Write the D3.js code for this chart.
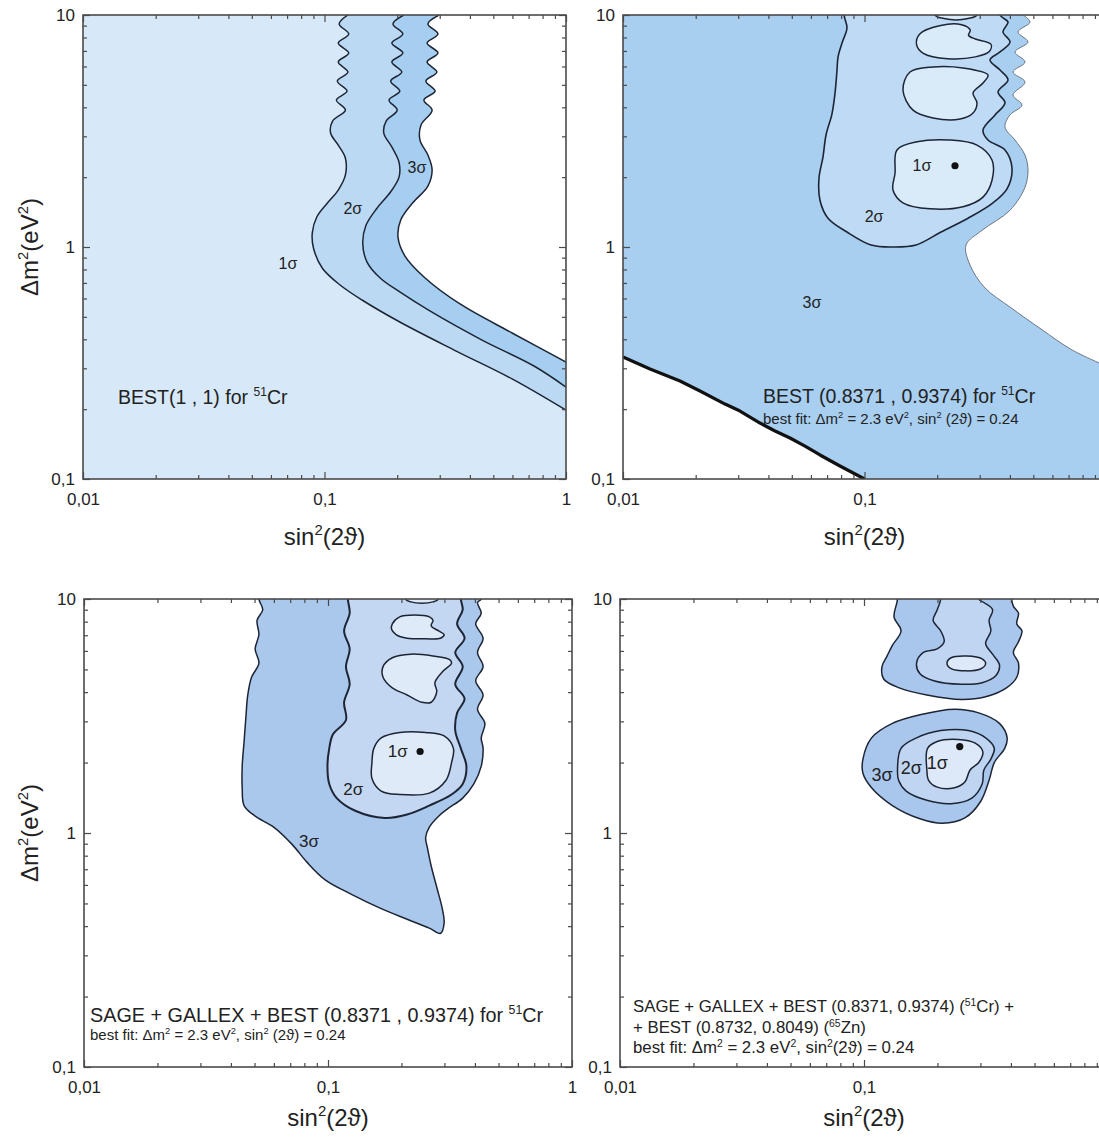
<!DOCTYPE html>
<html>
<head>
<meta charset="utf-8">
<script src="https://cdn.jsdelivr.net/npm/d3@7"></script>
<style>
  body { margin: 0; background: #fff; }
  svg { display: block; }
  text { font-family: Arial, "Liberation Sans", sans-serif; fill: #222; }
</style>
</head>
<body>
<svg></svg>
<script>
// tick labels
var xTickVals = [0.01, 0.1, 1];
var xTickText = ['0,01', '0,1', '1'];
var yTickVals = [0.1, 1, 10];
var yTickText = ['0,1', '1', '10'];

// ---- panel 1 : BEST(1,1), three open edges [sin2(2theta), dm2]
var p1Edge1 = [[0.125,10],[0.115,9.15],[0.126,8.28],[0.114,7.57],[0.126,6.86],[0.114,6.27],[0.125,5.68],[0.113,5.19],[0.124,4.70],[0.112,4.30],[0.122,3.89],[0.108,3.49],[0.106,3.10],[0.114,2.75],[0.122,2.42],[0.122,2.04],[0.114,1.76],[0.103,1.55],[0.093,1.35],[0.089,1.15],[0.090,0.99],[0.098,0.81],[0.116,0.686],[0.143,0.591],[0.205,0.475],[0.351,0.356],[0.598,0.270],[1.0,0.198]];
var p1Edge2 = [[0.213,10],[0.192,9.15],[0.211,8.28],[0.190,7.57],[0.211,6.86],[0.190,6.27],[0.209,5.68],[0.188,5.19],[0.205,4.70],[0.185,4.30],[0.200,3.89],[0.180,3.49],[0.176,3.10],[0.190,2.70],[0.2035,2.32],[0.2035,2.0],[0.188,1.73],[0.165,1.47],[0.1485,1.24],[0.144,1.04],[0.150,0.861],[0.170,0.735],[0.205,0.640],[0.273,0.530],[0.449,0.397],[0.737,0.307],[1.0,0.249]];
var p1Edge3 = [[0.298,10],[0.268,9.15],[0.295,8.28],[0.266,7.57],[0.295,6.86],[0.266,6.27],[0.292,5.68],[0.263,5.19],[0.287,4.70],[0.258,4.30],[0.279,3.89],[0.251,3.36],[0.2485,2.89],[0.268,2.49],[0.279,2.15],[0.268,1.83],[0.232,1.55],[0.207,1.31],[0.2016,1.10],[0.2154,0.914],[0.261,0.735],[0.364,0.568],[0.598,0.426],[1.0,0.319]];
var p1Labels = [['1σ',0.0706,0.853],['2σ',0.131,1.47],['3σ',0.2415,2.21]];

// ---- panel 2 : BEST (0.8371, 0.9374)
var p2Cut = [[0.01,0.3357],[0.01294,0.2979],[0.01722,0.2645],[0.02084,0.2395],[0.02645,0.2104],[0.03051,0.1963],[0.03693,0.1743],[0.04261,0.161],[0.04915,0.1502],[0.0567,0.1387],[0.06542,0.1269],[0.07915,0.1138],[0.1,0.1]];
var p2Edge3 = [[0.4532,10],[0.4845,9.33],[0.4321,8.45],[0.4753,7.65],[0.4199,6.93],[0.462,6.27],[0.412,5.68],[0.462,5.14],[0.412,4.52],[0.4489,4.09],[0.4004,3.71],[0.3817,3.29],[0.4199,2.89],[0.462,2.49],[0.4753,2.15],[0.462,1.81],[0.4004,1.44],[0.3066,1.18],[0.2633,1.02],[0.2735,0.836],[0.3155,0.666],[0.4004,0.551],[0.5381,0.443],[0.7233,0.36],[1.0,0.307]];
var p2Sigma2 = [[0.0823,10],[0.0846,8.79],[0.0807,7.57],[0.0777,6.59],[0.0769,5.74],[0.0755,4.61],[0.0733,3.74],[0.0693,3.04],[0.0673,2.44],[0.0648,1.98],[0.0654,1.59],[0.0706,1.33],[0.0846,1.16],[0.1064,1.02],[0.130,1.0],[0.1634,1.02],[0.2074,1.16],[0.2683,1.33],[0.3405,1.55],[0.3891,1.78],[0.408,2.19],[0.3817,2.62],[0.3246,2.89],[0.3095,3.19],[0.3471,3.71],[0.3817,4.18],[0.3572,4.66],[0.3928,5.25],[0.3641,5.79],[0.3309,6.40],[0.3641,6.93],[0.4004,7.65],[0.3745,8.45],[0.3928,9.33],[0.3641,10]];
var p2Isle0 = [[0.1958,10],[0.2135,9.66],[0.2393,9.52],[0.2683,9.66],[0.2923,10]];
var p2Isle1 = [[0.1642,7.48],[0.1698,8.31],[0.2068,9.02],[0.2522,9.08],[0.274,8.62],[0.2696,8.17],[0.2879,7.88],[0.3341,7.48],[0.3287,6.96],[0.2879,6.60],[0.2211,6.48],[0.1753,6.84]];
var p2Isle2 = [[0.1443,4.75],[0.1543,5.68],[0.1921,5.97],[0.2557,5.91],[0.3246,5.51],[0.3095,5.09],[0.2814,4.61],[0.2923,4.18],[0.2814,3.78],[0.2486,3.56],[0.1921,3.60],[0.1588,3.89]];
var p2Isle3 = [[0.1363,2.62],[0.165,2.84],[0.2259,2.89],[0.2923,2.75],[0.3373,2.37],[0.3373,1.94],[0.3095,1.64],[0.2557,1.49],[0.1867,1.46],[0.1443,1.55],[0.1312,1.76],[0.1338,2.08]];
var p2BestFit = [0.237, 2.24];
var p2Labels = [['1σ',0.173,2.25],['2σ',0.1095,1.36],['3σ',0.0606,0.574]];

// ---- panel 3 : SAGE + GALLEX + BEST
var p3Sigma3 = [[0.0521,10],[0.0540,9.00],[0.0512,8.10],[0.0521,7.05],[0.0503,6.12],[0.0521,5.32],[0.0486,4.63],[0.0469,3.89],[0.0461,3.15],[0.0453,2.46],[0.0445,1.93],[0.0445,1.56],[0.0453,1.31],[0.0503,1.18],[0.0599,1.06],[0.0714,0.892],[0.0821,0.749],[0.0977,0.629],[0.1248,0.547],[0.1652,0.475],[0.2110,0.428],[0.2602,0.392],[0.2889,0.372],[0.2992,0.413],[0.2940,0.475],[0.2791,0.586],[0.2648,0.723],[0.2557,0.862],[0.2513,0.957],[0.2602,1.06],[0.2840,1.18],[0.3099,1.27],[0.3565,1.41],[0.3960,1.62],[0.4246,1.93],[0.4321,2.30],[0.4246,2.55],[0.4396,2.94],[0.410,3.38],[0.432,3.89],[0.403,4.47],[0.432,5.14],[0.410,5.91],[0.432,6.80],[0.403,7.83],[0.4246,8.70],[0.410,9.66],[0.4246,10]];
var p3Sigma2 = [[0.1206,10],[0.1227,8.70],[0.1164,7.30],[0.1227,6.12],[0.1185,5.14],[0.1227,4.32],[0.1164,3.62],[0.1185,3.04],[0.1048,2.64],[0.1012,2.30],[0.0995,1.93],[0.1012,1.62],[0.1086,1.41],[0.1293,1.245],[0.1710,1.16],[0.2110,1.20],[0.2602,1.31],[0.3209,1.46],[0.3565,1.62],[0.3692,1.93],[0.3502,2.30],[0.3323,2.74],[0.3382,3.26],[0.3628,3.75],[0.3323,4.32],[0.3565,5.14],[0.3323,5.91],[0.3628,6.80],[0.3382,7.83],[0.3565,9.00],[0.3502,10]];
var p3Isle0 = [[0.2073,10],[0.2185,9.72],[0.2427,9.59],[0.2694,9.72],[0.284,10]];
var p3Isle1 = [[0.1835,7.83],[0.1967,8.39],[0.2263,8.54],[0.2602,8.39],[0.2694,8.10],[0.2648,7.69],[0.284,7.30],[0.2992,7.05],[0.2889,6.80],[0.2513,6.76],[0.211,6.80],[0.19,7.05],[0.1822,7.42]];
var p3Isle2 = [[0.1681,5.14],[0.1835,5.61],[0.2185,5.81],[0.2694,5.71],[0.3154,5.51],[0.3209,5.32],[0.294,4.88],[0.2742,4.39],[0.2791,4.02],[0.2648,3.62],[0.2427,3.62],[0.211,3.89],[0.1835,4.17],[0.1681,4.63]];
var p3Isle3 = [[0.1541,2.30],[0.1652,2.55],[0.1967,2.69],[0.2513,2.69],[0.2992,2.60],[0.3266,2.30],[0.3209,2.00],[0.3045,1.68],[0.2602,1.48],[0.1967,1.46],[0.1652,1.51],[0.1514,1.71],[0.1514,2.00]];
var p3BestFit = [0.2385, 2.23];
var p3Labels = [['1σ',0.193,2.22],['2σ',0.127,1.54],['3σ',0.0836,0.924]];

// ---- panel 4 : SAGE + GALLEX + BEST (Cr + Zn)
var p4UpSigma3 = [[0.1372,10],[0.1328,8.39],[0.1418,7.30],[0.1307,6.34],[0.1244,5.71],[0.1185,5.14],[0.1204,4.55],[0.1395,4.17],[0.181,3.89],[0.2508,3.72],[0.3151,3.82],[0.3836,4.17],[0.4227,4.63],[0.4296,5.32],[0.4093,5.91],[0.4296,6.57],[0.444,7.30],[0.4227,7.83],[0.4296,8.70],[0.4093,9.32],[0.4027,10]];
var p4UpSigma2 = [[0.2063,10],[0.1996,9.00],[0.192,8.10],[0.2063,7.30],[0.2131,6.57],[0.1996,6.12],[0.1752,5.91],[0.1642,5.32],[0.1696,4.79],[0.1932,4.47],[0.2508,4.32],[0.305,4.39],[0.3475,4.71],[0.3591,5.23],[0.3365,5.81],[0.3151,6.45],[0.331,7.30],[0.3256,8.10],[0.3365,9.00],[0.31,9.66],[0.2953,10]];
var p4UpSigma1 = [[0.2188,5.32],[0.2275,5.61],[0.2634,5.71],[0.305,5.55],[0.3151,5.29],[0.3001,5.02],[0.2634,4.93],[0.2275,5.04]];
var p4LoSigma3 = [[0.099,2.07],[0.1074,2.55],[0.1307,2.94],[0.1696,3.20],[0.235,3.38],[0.2953,3.26],[0.3591,2.94],[0.3861,2.55],[0.3773,2.30],[0.342,2.00],[0.3256,1.68],[0.3001,1.36],[0.2591,1.16],[0.2097,1.10],[0.1696,1.15],[0.1307,1.31],[0.1074,1.56],[0.099,1.80]];
var p4LoSigma2 = [[0.1372,1.86],[0.1418,2.30],[0.1642,2.55],[0.2063,2.74],[0.2677,2.74],[0.3151,2.55],[0.342,2.30],[0.331,2.07],[0.31,1.86],[0.305,1.62],[0.2766,1.41],[0.2275,1.335],[0.181,1.38],[0.1489,1.51],[0.1386,1.68]];
var p4LoSigma1 = [[0.181,1.86],[0.1822,2.30],[0.1996,2.46],[0.2428,2.51],[0.2858,2.42],[0.307,2.22],[0.2953,2.00],[0.2721,1.86],[0.2591,1.65],[0.235,1.56],[0.1996,1.57],[0.184,1.68]];
var p4BestFit = [0.2468, 2.34];
var p4Labels = [['3σ',0.1185,1.77],['2σ',0.1564,1.90],['1σ',0.1996,2.0]];

var width = 1099;
var height = 1139;
var lineColor = '#1d2535';

var frames = [
  {x: 83, y: 15, w: 483, h: 464, titleY: 545, yTitle: true},
  {x: 623, y: 15, w: 483, h: 464, titleY: 545, yTitle: false},
  {x: 84, y: 599, w: 488, h: 468, titleY: 1126, yTitle: true},
  {x: 620, y: 599, w: 488, h: 468, titleY: 1126, yTitle: false}
];

var svg = d3.select('svg')
    .attr('width', width)
    .attr('height', height);

function setupPanel(i) {
  var f = frames[i];
  var xScale = d3.scaleLog().domain([0.01, 1]).range([f.x, f.x + f.w]);
  var yScale = d3.scaleLog().domain([0.1, 10]).range([f.y + f.h, f.y]);
  svg.append('clipPath').attr('id', 'clip' + i)
    .append('rect')
      .attr('x', f.x).attr('y', f.y)
      .attr('width', f.w).attr('height', f.h);
  var g = svg.append('g').attr('clip-path', 'url(#clip' + i + ')');
  return {
    f: f, x: xScale, y: yScale, g: g,
    smooth: d3.line().x(d => xScale(d[0])).y(d => yScale(d[1])).curve(d3.curveCatmullRom.alpha(0.5)),
    loop: d3.line().x(d => xScale(d[0])).y(d => yScale(d[1])).curve(d3.curveCatmullRomClosed.alpha(0.5)),
    straight: d3.line().x(d => xScale(d[0])).y(d => yScale(d[1]))
  };
}

function background(p, color) {
  p.g.append('rect')
    .attr('x', p.f.x).attr('y', p.f.y)
    .attr('width', p.f.w).attr('height', p.f.h)
    .attr('fill', color);
}

// fill everything right of an open edge that runs from the top to the right side
function fillRight(p, pts, color) {
  var last = pts[pts.length - 1];
  var d = p.smooth(pts) +
    'L' + p.x(1.6) + ',' + p.y(last[1]) +
    'L' + p.x(1.6) + ',' + p.y(14) +
    'L' + p.x(pts[0][0]) + ',' + p.y(14) + 'Z';
  p.g.append('path').attr('d', d).attr('fill', color);
}

function strokeOpen(p, pts, color, sw) {
  p.g.append('path')
    .attr('d', p.smooth(pts))
    .attr('fill', 'none')
    .attr('stroke', color)
    .attr('stroke-width', sw);
}

function region(p, pts, color, sw, touchesTop) {
  var ring = touchesTop ? pts.concat([[pts[pts.length - 1][0], 14], [pts[0][0], 14]]) : pts;
  p.g.append('path')
    .attr('d', p.loop(ring))
    .attr('fill', color)
    .attr('stroke', lineColor)
    .attr('stroke-width', sw)
    .attr('stroke-linejoin', 'round');
}

function sigmaLabels(p, labels, size) {
  p.g.selectAll('.sig' + p.f.x)
    .data(labels)
    .enter()
    .append('text')
      .attr('x', d => p.x(d[1]))
      .attr('y', d => p.y(d[2]))
      .attr('text-anchor', 'middle')
      .attr('dominant-baseline', 'central')
      .attr('font-size', size)
      .text(d => d[0]);
}

function bestFitDot(p, pt) {
  p.g.append('circle')
    .attr('cx', p.x(pt[0]))
    .attr('cy', p.y(pt[1]))
    .attr('r', 3.6)
    .attr('fill', '#111');
}

// text with superscript parts: [[string, isSup], ...]
function richText(parent, x, y, fs, parts, anchor, rotate, lift) {
  var shift = fs * (lift || 0.42);
  var t = parent.append('text')
    .attr('x', x).attr('y', y)
    .attr('font-size', fs)
    .attr('text-anchor', anchor || 'start');
  if (rotate) t.attr('transform', 'rotate(-90,' + x + ',' + y + ')');
  var up = false;
  parts.forEach(part => {
    var ts = t.append('tspan').text(part[0]);
    if (part[1]) {
      ts.attr('font-size', fs * 0.62).attr('dy', -shift);
      up = true;
    } else if (up) {
      ts.attr('dy', shift);
      up = false;
    }
  });
  return t;
}

function isMajor(v) {
  var l = Math.log10(v);
  return Math.abs(l - Math.round(l)) < 1e-6;
}

function drawAxes(p) {
  var f = p.f;
  var ax = svg.append('g').attr('color', '#4a4a4a');
  var xMinor = p.x.ticks().filter(v => !isMajor(v));
  var yMinor = p.y.ticks().filter(v => !isMajor(v));
  // the right-hand panels run past the page edge, so their last label is not shown
  var xFormat = (d, i) => p.x(d) > width - 6 ? '' : xTickText[i];

  ax.append('g').attr('transform', 'translate(0,' + (f.y + f.h) + ')')
    .call(d3.axisBottom(p.x).tickValues(xMinor).tickSize(-4).tickFormat(''));
  ax.append('g').attr('transform', 'translate(0,' + (f.y + f.h) + ')')
    .call(d3.axisBottom(p.x).tickValues(xTickVals).tickSize(-7).tickPadding(14).tickFormat(xFormat));
  ax.append('g').attr('transform', 'translate(0,' + f.y + ')')
    .call(d3.axisTop(p.x).tickValues(xMinor).tickSize(-4).tickFormat(''));
  ax.append('g').attr('transform', 'translate(0,' + f.y + ')')
    .call(d3.axisTop(p.x).tickValues(xTickVals).tickSize(-7).tickFormat(''));

  ax.append('g').attr('transform', 'translate(' + f.x + ',0)')
    .call(d3.axisLeft(p.y).tickValues(yMinor).tickSize(-4).tickFormat(''));
  ax.append('g').attr('transform', 'translate(' + f.x + ',0)')
    .call(d3.axisLeft(p.y).tickValues(yTickVals).tickSize(-7).tickPadding(8)
      .tickFormat((d, i) => yTickText[i]));
  ax.append('g').attr('transform', 'translate(' + (f.x + f.w) + ',0)')
    .call(d3.axisRight(p.y).tickValues(yMinor).tickSize(-4).tickFormat(''));
  ax.append('g').attr('transform', 'translate(' + (f.x + f.w) + ',0)')
    .call(d3.axisRight(p.y).tickValues(yTickVals).tickSize(-7).tickFormat(''));

  ax.selectAll('.domain').remove();
  ax.selectAll('.tick line').attr('stroke-width', 1.2);
  ax.selectAll('text')
    .attr('font-size', 17)
    .attr('font-family', 'Arial, "Liberation Sans", sans-serif')
    .attr('fill', '#222');

  ax.append('rect')
    .attr('x', f.x).attr('y', f.y)
    .attr('width', f.w).attr('height', f.h)
    .attr('fill', 'none')
    .attr('stroke', '#4a4a4a')
    .attr('stroke-width', 1.6);

  richText(svg, f.x + f.w / 2, f.titleY, 24, [['sin'], ['2', 1], ['(2ϑ)']], 'middle');
  if (f.yTitle) {
    richText(svg, 38, p.y(1), 24, [['Δm'], ['2', 1], ['(eV'], ['2', 1], [')']], 'middle', true);
  }
}

// ---------- panel 1
var p1 = setupPanel(0);
background(p1, '#d7e9f8');
fillRight(p1, p1Edge1, '#bbd9f3');
fillRight(p1, p1Edge2, '#a6cef0');
fillRight(p1, p1Edge3, '#ffffff');
[p1Edge1, p1Edge2, p1Edge3].forEach(e => strokeOpen(p1, e, lineColor, 1.5));
sigmaLabels(p1, p1Labels, 16);
richText(p1.g, p1.f.x + 35, p1.f.y + 389, 19.5, [['BEST(1 , 1) for '], ['51', 1], ['Cr']]);
drawAxes(p1);

// ---------- panel 2
var p2 = setupPanel(1);
background(p2, '#a8cef0');
p2.g.append('path')
  .attr('d', p2.straight(p2Cut.concat([[0.1, 0.05], [0.005, 0.05], [0.005, p2Cut[0][1]]])) + 'Z')
  .attr('fill', '#ffffff');
fillRight(p2, p2Edge3, '#ffffff');
strokeOpen(p2, p2Edge3, '#6b7685', 1);
p2.g.append('path')
  .attr('d', p2.straight(p2Cut))
  .attr('fill', 'none')
  .attr('stroke', '#111')
  .attr('stroke-width', 3.2)
  .attr('stroke-linejoin', 'round');
region(p2, p2Sigma2, '#bedaf4', 1.6, true);
region(p2, p2Isle0, '#d9eaf9', 1.4, true);
[p2Isle1, p2Isle2, p2Isle3].forEach(s => region(p2, s, '#d9eaf9', 1.5, false));
bestFitDot(p2, p2BestFit);
sigmaLabels(p2, p2Labels, 16);
richText(p2.g, p2.f.x + 140, p2.f.y + 388, 19.5, [['BEST (0.8371 , 0.9374) for '], ['51', 1], ['Cr']]);
richText(p2.g, p2.f.x + 140, p2.f.y + 409, 15,
  [['best fit: Δm'], ['2', 1], [' = 2.3 eV'], ['2', 1], [', sin'], ['2', 1], [' (2ϑ) = 0.24']]);
drawAxes(p2);

// ---------- panel 3
var p3 = setupPanel(2);
background(p3, '#ffffff');
region(p3, p3Sigma3, '#aac7ec', 1.5, true);
region(p3, p3Sigma2, '#c3d7f2', 2, true);
region(p3, p3Isle0, '#dfeaf8', 1.4, true);
[p3Isle1, p3Isle2, p3Isle3].forEach(s => region(p3, s, '#dfeaf8', 1.5, false));
bestFitDot(p3, p3BestFit);
sigmaLabels(p3, p3Labels, 17);
richText(p3.g, p3.f.x + 6, p3.f.y + 423, 19.8, [['SAGE + GALLEX + BEST (0.8371 , 0.9374) for '], ['51', 1], ['Cr']]);
richText(p3.g, p3.f.x + 6, p3.f.y + 441, 15,
  [['best fit: Δm'], ['2', 1], [' = 2.3 eV'], ['2', 1], [', sin'], ['2', 1], [' (2ϑ) = 0.24']]);
drawAxes(p3);

// ---------- panel 4
var p4 = setupPanel(3);
background(p4, '#ffffff');
region(p4, p4UpSigma3, '#a9c6ec', 1.5, true);
region(p4, p4UpSigma2, '#bfd5f1', 1.5, true);
region(p4, p4UpSigma1, '#dde9f8', 1.5, false);
region(p4, p4LoSigma3, '#a9c6ec', 1.5, false);
region(p4, p4LoSigma2, '#bfd5f1', 1.5, false);
region(p4, p4LoSigma1, '#dde9f8', 1.5, false);
bestFitDot(p4, p4BestFit);
sigmaLabels(p4, p4Labels, 18);
richText(p4.g, p4.f.x + 13, p4.f.y + 413, 16.8, [['SAGE + GALLEX + BEST (0.8371, 0.9374) ('], ['51', 1], ['Cr) +']], null, false, 0.34);
richText(p4.g, p4.f.x + 13, p4.f.y + 434, 16.8, [['+ BEST (0.8732, 0.8049) ('], ['65', 1], ['Zn)']], null, false, 0.34);
richText(p4.g, p4.f.x + 13, p4.f.y + 454, 16.8,
  [['best fit: Δm'], ['2', 1], [' = 2.3 eV'], ['2', 1], [', sin'], ['2', 1], ['(2ϑ) = 0.24']], null, false, 0.34);
drawAxes(p4);
</script>
</body>
</html>
